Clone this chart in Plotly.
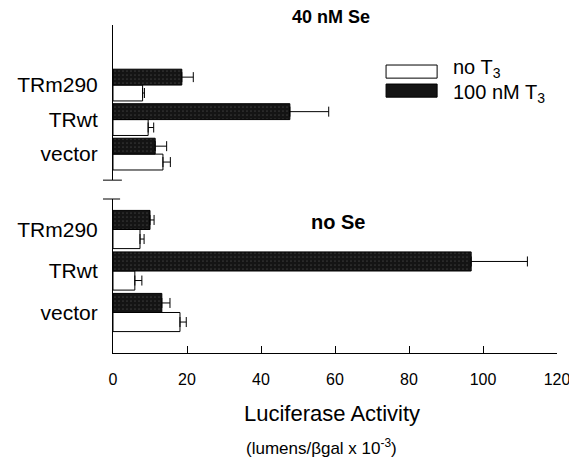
import plotly.graph_objects as go

categories = ["vector", "TRwt", "TRm290"]

# 40 nM Se panel (upper)
se40_noT3 = [13.5, 9.5, 8.0]
se40_noT3_err = [2.0, 1.5, 0.5]
se40_T3 = [11.4, 47.8, 18.6]
se40_T3_err = [3.1, 10.5, 3.1]

# no Se panel (lower)
nose_noT3 = [18.1, 5.9, 7.3]
nose_noT3_err = [1.7, 1.9, 1.1]
nose_T3 = [13.2, 96.8, 10.0]
nose_T3_err = [2.2, 15.2, 1.1]

x_ticks = [0, 20, 40, 60, 80, 100, 120]

FONT = "Arial, Liberation Sans, sans-serif"
DARK = "#141414"

def white_bar(x, err, xa, ya):
    return go.Bar(
        y=categories, x=x, orientation="h", xaxis=xa, yaxis=ya,
        marker=dict(color="white", line=dict(color="black", width=1)),
        error_x=dict(type="data", array=err, arrayminus=[0]*len(err), symmetric=False,
                     color="black", thickness=1, width=5),
        showlegend=False,
    )

def dark_bar(x, err, xa, ya):
    return go.Bar(
        y=categories, x=x, orientation="h", xaxis=xa, yaxis=ya,
        marker=dict(color=DARK, line=dict(color="black", width=1),
                    pattern=dict(shape=".", fgcolor="#5a5a5a", bgcolor=DARK, size=4, solidity=0.15)),
        error_x=dict(type="data", array=err, arrayminus=[0]*len(err), symmetric=False,
                     color="black", thickness=1, width=5),
        showlegend=False,
    )

fig = go.Figure()
fig.add_trace(white_bar(nose_noT3, nose_noT3_err, "x", "y"))
fig.add_trace(dark_bar(nose_T3, nose_T3_err, "x", "y"))
fig.add_trace(white_bar(se40_noT3, se40_noT3_err, "x2", "y2"))
fig.add_trace(dark_bar(se40_T3, se40_T3_err, "x2", "y2"))

low_top = 0.4695
up_bot = 0.527

fig.update_layout(
    width=569, height=460,
    margin=dict(l=105, r=20, t=17, b=115, autoexpand=False),
    paper_bgcolor="white", plot_bgcolor="white",
    barmode="group", bargap=0.08, bargroupgap=0,
    font=dict(family=FONT, color="black"),
    xaxis=dict(range=[0, 120], tickvals=x_ticks, ticks="inside", ticklen=7, tickwidth=1,
               tickcolor="black", showline=True, linecolor="black", linewidth=1,
               showgrid=False, zeroline=False, anchor="y", automargin=False,
               tickfont=dict(size=16), ticklabelstandoff=12),
    xaxis2=dict(range=[0, 120], matches="x", visible=False, anchor="y2", automargin=False),
    yaxis=dict(domain=[0, low_top], type="category", categoryorder="array",
               categoryarray=categories, range=[-0.976, 2.735], automargin=False,
               showline=True, linecolor="black", linewidth=1, ticks="", showgrid=False,
               tickfont=dict(size=21), ticklabelstandoff=10, anchor="x"),
    yaxis2=dict(domain=[up_bot, 1], type="category", categoryorder="array",
                categoryarray=categories, range=[-0.754, 3.74], automargin=False,
                showline=True, linecolor="black", linewidth=1, ticks="", showgrid=False,
                tickfont=dict(size=21), ticklabelstandoff=10, anchor="x2"),
)

shapes = [
    # axis break marks
    dict(type="line", xref="paper", yref="paper", x0=-0.0225, x1=0.020, y0=up_bot, y1=up_bot,
         line=dict(color="black", width=1)),
    dict(type="line", xref="paper", yref="paper", x0=-0.0225, x1=0.016, y0=low_top, y1=low_top,
         line=dict(color="black", width=1)),
    # legend swatches
    dict(type="rect", xref="paper", yref="paper", x0=0.615, x1=0.730, y0=0.838, y1=0.878,
         line=dict(color="black", width=1), fillcolor="white"),
    dict(type="rect", xref="paper", yref="paper", x0=0.615, x1=0.730, y0=0.780, y1=0.820,
         line=dict(color="black", width=1), fillcolor=DARK),
]
fig.update_layout(shapes=shapes)

def ann(text, x, y, size, xanchor="center"):
    return dict(text=text, x=x, y=y, xref="paper", yref="paper", showarrow=False,
                xanchor=xanchor, yanchor="middle", borderpad=0, font=dict(size=size))

annotations = [
    ann("<b>40 nM Se</b>", 0.491, 1.025, 18),
    ann("<b>no Se</b>", 0.507, 0.399, 20),
    ann("no T<sub>3</sub>", 0.7635, 0.866, 20, "left"),
    ann("100 nM T<sub>3</sub>", 0.7635, 0.790, 20, "left"),
    ann("Luciferase Activity", 0.493, -0.183, 22),
    ann("(lumens/βgal x 10<sup>-3</sup>)", 0.47, -0.287, 17),
]
fig.update_layout(annotations=annotations)

fig.write_html("out.html")
